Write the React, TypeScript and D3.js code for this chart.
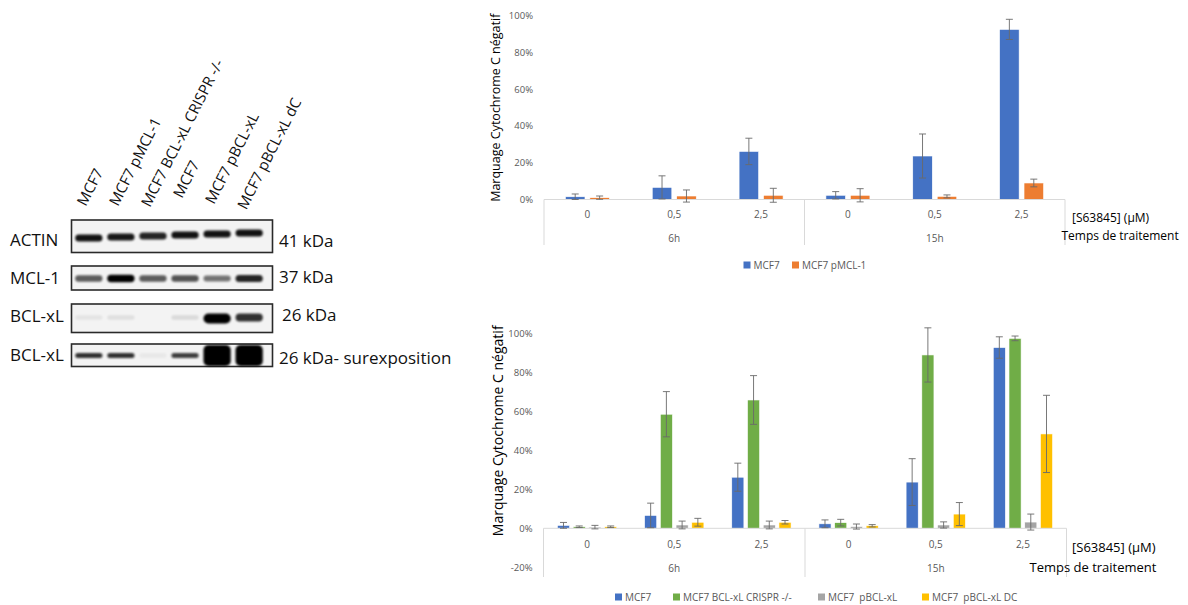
import React from "react";
import * as d3 from "d3";

// ---------- DATA ----------
const doses = ["0", "0,5", "2,5"];
const times = ["6h", "15h"];

// top chart (values in %)
const topSeries = ["MCF7", "MCF7 pMCL-1"];
const mcf7 = [1.5, 6.6, 26.2, 2.3, 23.7, 92.7];
const mcf7Err = [1.5, 6.3, 7.2, 2.0, 12.0, 5.5];
const pmcl1 = [1.0, 1.9, 2.3, 2.3, 1.7, 9.0];
const pmcl1Err = [0.9, 3.3, 3.8, 3.6, 0.8, 2.1];

// bottom chart (values in %)
const bottomSeries = ["MCF7", "MCF7 BCL-xL CRISPR -/-", "MCF7  pBCL-xL", "MCF7  pBCL-xL DC"];
const crispr = [0.8, 58.5, 65.8, 2.9, 88.9, 97.4];
const crisprErr = [0.4, 11.6, 12.5, 1.7, 13.9, 1.2];
const pbclxl = [0.6, 1.7, 1.7, 0.9, 1.7, 3.2];
const pbclxlErr = [0.9, 2.0, 2.0, 1.3, 1.6, 4.1];
const pbclxlDC = [0.8, 3.1, 3.1, 1.3, 7.3, 48.4];
const pbclxlDCErr = [0.4, 2.0, 0.9, 0.6, 5.9, 19.8];

const topTicks = [0, 20, 40, 60, 80, 100];
const bottomTicks = [-20, 0, 20, 40, 60, 80, 100];

// western blot
const lanes = ["MCF7", "MCF7 pMCL-1", "MCF7 BCL-xL CRISPR -/-", "MCF7", "MCF7 pBCL-xL", "MCF7 pBCL-xL dC"];
const blotRows = ["ACTIN", "MCL-1", "BCL-xL", "BCL-xL"];
const blotKda = ["41 kDa", "37 kDa", "26 kDa", "26 kDa- surexposition"];
const actinBands = [0.92, 0.9, 0.85, 0.92, 0.92, 0.92];
const mcl1Bands = [0.62, 1, 0.62, 0.66, 0.52, 0.85];
const bclxlBands = [0.06, 0.08, 0, 0.1, 1, 0.8];
const bclxlOverBands = [0.8, 0.8, 0.04, 0.74, 1, 1];

// ---------- STYLE ----------
const COLORS: Record<string, string> = {
  "MCF7": "#4472C4",
  "MCF7 pMCL-1": "#ED7D31",
  "MCF7 BCL-xL CRISPR -/-": "#70AD47",
  "MCF7  pBCL-xL": "#A5A5A5",
  "MCF7  pBCL-xL DC": "#FFC000",
};
const FONT = "'Open Sans', 'Noto Sans', sans-serif";
const GRAY_TXT = "#595959";
const AXIS = "#d9d9d9";

type Series = { name: string; values: number[]; errs: number[] };

function BarChart(props: {
  series: Series[];
  ticks: number[];
  x0: number; x1: number;
  yTop: number; yBottom: number; yMin: number; yMax: number;
  innerPad: number; groupSpan: number;
  sepBottom: number; doseY: number; timeY: number;
  titleX: number; titleSize: number;
  unitX: number; unitY: number; temps: { x: number; y: number; size: number };
  unitSize: number;
  legendY: number; legendX: number[];
}) {
  const p = props;
  const cats = times.flatMap((t) => doses.map((d) => `${t}|${d}`));
  const x = d3.scaleBand<string>().domain(cats).range([p.x0, p.x1]).paddingInner(0).paddingOuter(0);
  const y = d3.scaleLinear().domain([p.yMin, p.yMax]).range([p.yBottom, p.yTop]);
  const names = p.series.map((s) => s.name);
  const y0 = y(0);
  const timeBand = d3.scaleBand<string>().domain(times).range([p.x0, p.x1]);
  const innerFor = (c: string) => {
    const cx = (x(c) as number) + x.bandwidth() / 2;
    return d3.scaleBand<string>().domain(names)
      .range([cx - p.groupSpan / 2, cx + p.groupSpan / 2]).paddingInner(p.innerPad).paddingOuter(0);
  };
  return (
    <g fontFamily={FONT}>
      {p.ticks.map((t) => (
        <text key={t} x={p.x0 - 11} y={y(t)} dy="0.35em" textAnchor="end" fontSize={9.5} fill={GRAY_TXT}>
          {`${t}%`}
        </text>
      ))}
      <text
        transform={`translate(${p.titleX},${(y(p.yMax) + y0) / 2}) rotate(-90)`}
        textAnchor="middle"
        fontSize={p.titleSize}
        fill="#000"
      >
        Marquage Cytochrome C négatif
      </text>
      {cats.map((c, ci) => {
        const inner = innerFor(c);
        return (
          <g key={c}>
            {p.series.map((s) => {
              const v = s.values[ci];
              return (
                <rect key={s.name} x={inner(s.name) as number} y={y(v)} width={inner.bandwidth()}
                  height={Math.max(0, y0 - y(v))}
                  fill={COLORS[s.name]} stroke="#fff" strokeWidth={0.6} />
              );
            })}
          </g>
        );
      })}
      <line x1={p.x0} x2={p.x1} y1={y0} y2={y0} stroke={AXIS} strokeWidth={1} />
      {[p.x0, (timeBand("15h") as number), p.x1].map((sx, i) => (
        <line key={i} x1={sx} x2={sx} y1={y0} y2={p.sepBottom} stroke={AXIS} strokeWidth={1} />
      ))}
      {cats.map((c, ci) => {
        const inner = innerFor(c);
        return (
          <g key={c} stroke="#6a6a6a" strokeWidth={0.9}>
            {p.series.map((s) => {
              const v = s.values[ci];
              const e = s.errs[ci];
              const mx = (inner(s.name) as number) + inner.bandwidth() / 2;
              const ya = y(v + e), yb = y(v - e);
              return (
                <g key={s.name}>
                  <line x1={mx} x2={mx} y1={ya} y2={yb} />
                  <line x1={mx - 3.5} x2={mx + 3.5} y1={ya} y2={ya} />
                  <line x1={mx - 3.5} x2={mx + 3.5} y1={yb} y2={yb} />
                </g>
              );
            })}
          </g>
        );
      })}
      {cats.map((c) => {
        const cx = (x(c) as number) + x.bandwidth() / 2;
        return (
          <text key={c} x={cx} y={p.doseY} textAnchor="middle" fontSize={10} fill={GRAY_TXT}>
            {c.split("|")[1]}
          </text>
        );
      })}
      {times.map((t) => (
        <text key={t} x={(timeBand(t) as number) + timeBand.bandwidth() / 2} y={p.timeY}
          textAnchor="middle" fontSize={10} fill={GRAY_TXT}>
          {t}
        </text>
      ))}
      <text x={p.unitX} y={p.unitY} fontSize={p.unitSize} fill="#000">[S63845] (µM)</text>
      <text x={p.temps.x} y={p.temps.y} fontSize={p.temps.size} fill="#000">Temps de traitement</text>
      {p.series.map((s, i) => (
        <g key={s.name} transform={`translate(${p.legendX[i]},${p.legendY})`}>
          <rect x={0} y={-3.5} width={7} height={7} fill={COLORS[s.name]} />
          <text x={10} y={0} dy="0.35em" fontSize={10} fill={GRAY_TXT} style={{ whiteSpace: "pre" }}>
            {s.name}
          </text>
        </g>
      ))}
    </g>
  );
}

function Blot() {
  const laneX = d3.scaleBand<string>().domain(lanes.map((_, i) => String(i))).range([72, 266]).paddingInner(0.15).paddingOuter(0.1);
  const panels = [
    { top: 220, bottom: 252.5, center: 235.5, bands: actinBands, base: 7, tilt: -1 },
    { top: 266, bottom: 290, center: 278.5, bands: mcl1Bands, base: 4.5, tilt: 0 },
    { top: 304, bottom: 332.5, center: 317.5, bands: bclxlBands, base: 4.5, tilt: 0 },
    { top: 344, bottom: 366.5, center: 355.5, bands: bclxlOverBands, base: 5, tilt: 0 },
  ];
  const labelY = [207, 207, 208, 199, 205, 210.5];
  return (
    <g fontFamily={FONT}>
      <defs>
        <filter id="bandBlur" x="-30%" y="-80%" width="160%" height="260%">
          <feGaussianBlur stdDeviation="1.3" />
        </filter>
        <filter id="bandBlur2" x="-30%" y="-80%" width="160%" height="260%">
          <feGaussianBlur stdDeviation="0.8" />
        </filter>
      </defs>
      {lanes.map((l, i) => {
        const cx = (laneX(String(i)) as number) + laneX.bandwidth() / 2;
        return (
          <text key={i} transform={`translate(${cx - 3},${labelY[i]}) rotate(-63)`} fontSize={15} fill="#111">
            {l}
          </text>
        );
      })}
      {panels.map((pn, r) => (
        <g key={r}>
          <rect x={71.5} y={pn.top} width={201} height={pn.bottom - pn.top} fill="#f3f3f3" stroke="#2a2a2a" strokeWidth={1.6} />
          {pn.bands.map((v, i) => {
            if (v <= 0.01) return null;
            const cx = (laneX(String(i)) as number) + laneX.bandwidth() / 2;
            const bw = laneX.bandwidth();
            const sat = r >= 2 && v >= 0.99;
            const over = r === 3 && v >= 0.99;
            const h = over ? 21 : sat ? 10 : r === 2 && v > 0.5 ? 8 : pn.base + (r === 1 ? v * 3 : 0);
            const cy = pn.center + pn.tilt * (i - 2.5) + (sat && r === 2 ? 1 : 0);
            return (
              <rect key={i} x={cx - bw / 2} y={cy - h / 2} width={bw} height={h} rx={over ? 5 : h / 2}
                fill="#000" opacity={Math.min(1, v)} filter={over ? "url(#bandBlur2)" : "url(#bandBlur)"} />
            );
          })}
        </g>
      ))}
      {blotRows.map((t, i) => (
        <text key={i} x={10} y={[246, 283.5, 321.5, 361][i]} fontSize={17} fill="#111">{t}</text>
      ))}
      {blotKda.map((t, i) => (
        <text key={i} x={[279, 279, 282, 279][i]} y={[246.5, 283, 321, 363.5][i]} fontSize={17} fill="#111">{t}</text>
      ))}
    </g>
  );
}

export default function App() {
  const topData: Series[] = [
    { name: topSeries[0], values: mcf7, errs: mcf7Err },
    { name: topSeries[1], values: pmcl1, errs: pmcl1Err },
  ];
  const bottomData: Series[] = [
    { name: bottomSeries[0], values: mcf7, errs: mcf7Err },
    { name: bottomSeries[1], values: crispr, errs: crisprErr },
    { name: bottomSeries[2], values: pbclxl, errs: pbclxlErr },
    { name: bottomSeries[3], values: pbclxlDC, errs: pbclxlDCErr },
  ];
  return (
    <svg width={1188} height={605} style={{ position: "absolute", left: 0, top: 0, background: "#fff" }}>
      <rect width={1188} height={605} fill="#fff" />
      <Blot />
      <BarChart
        series={topData} ticks={topTicks}
        x0={544} x1={1065} yTop={16} yBottom={199.5} yMin={0} yMax={100}
        innerPad={0.2} groupSpan={44}
        sepBottom={245} doseY={217.5} timeY={241.5}
        titleX={500} titleSize={12.5}
        unitX={1072} unitY={222} unitSize={12}
        temps={{ x: 1061.5, y: 239.5, size: 12 }}
        legendY={265} legendX={[743.5, 792]}
      />
      <BarChart
        series={bottomData} ticks={bottomTicks}
        x0={543.5} x1={1066.5} yTop={333.3} yBottom={567.3} yMin={-20} yMax={100}
        innerPad={0.23} groupSpan={59.3}
        sepBottom={577} doseY={548} timeY={571.5}
        titleX={503} titleSize={14}
        unitX={1072} unitY={551.5} unitSize={13}
        temps={{ x: 1029.5, y: 572, size: 13 }}
        legendY={597} legendX={[615, 673, 818, 922]}
      />
    </svg>
  );
}
